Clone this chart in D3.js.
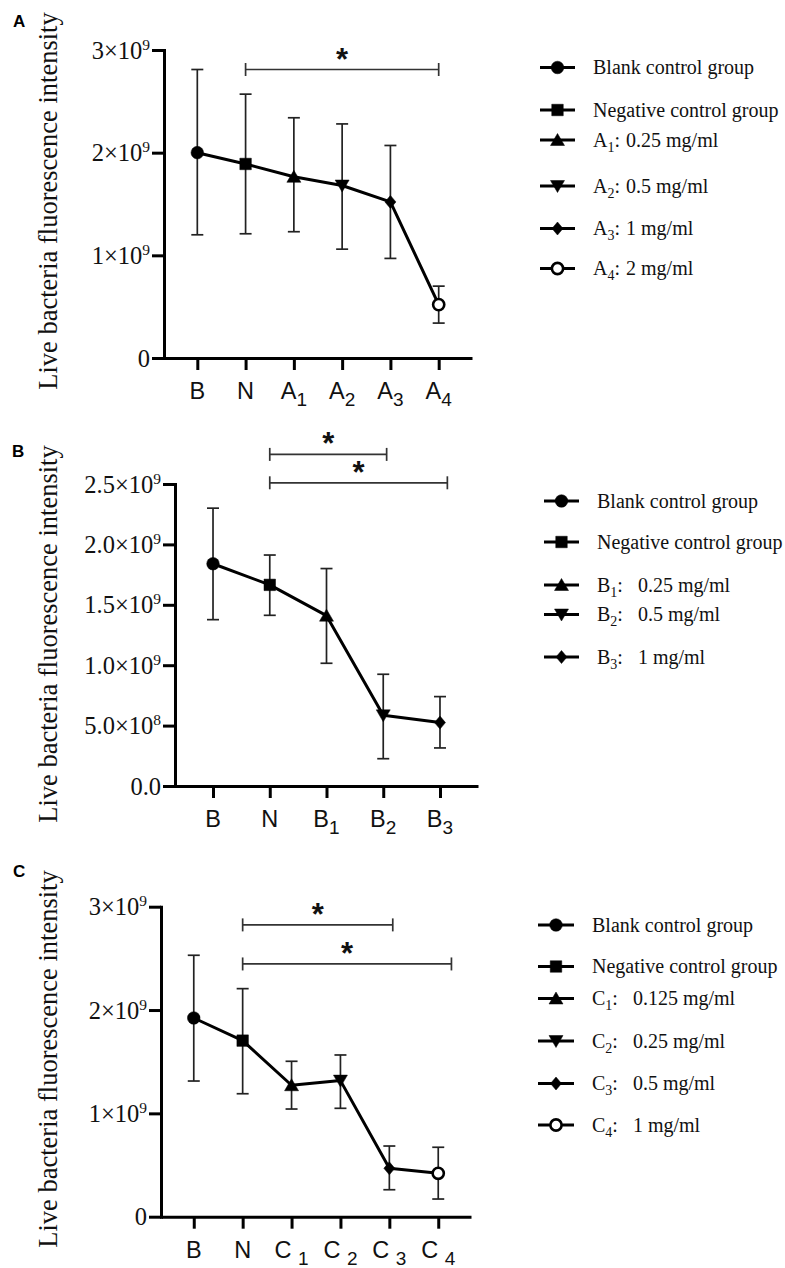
<!DOCTYPE html>
<html><head><meta charset="utf-8">
<script src="https://cdn.jsdelivr.net/npm/d3@7"></script>
<style>
html,body{margin:0;padding:0;background:#fff;}
svg{display:block;}
</style></head><body>
<svg id="chart" width="785" height="1268"></svg>
<script>
// ---------------- DATA ----------------
// Panel A
const catsA = ["B","N","A1","A2","A3","A4"];
const xMainA = ["B","N","A","A","A","A"];
const xSubA = ["","","1","2","3","4"];
const meanA = [2.00e9, 1.89e9, 1.765e9, 1.68e9, 1.52e9, 0.52e9];
const lowA  = [1.20e9, 1.21e9, 1.23e9, 1.06e9, 0.97e9, 0.34e9];
const highA = [2.81e9, 2.57e9, 2.34e9, 2.28e9, 2.07e9, 0.70e9];
const markersA = ["circle","square","triUp","triDown","diamond","openCircle"];
const tickValsA = [0, 1e9, 2e9, 3e9];
const tickMainA = ["0","1×10","2×10","3×10"];
const tickSupA = ["","9","9","9"];
const legendMainA = ["Blank control group","Negative control group","A","A","A","A"];
const legendSubA = ["","","1","2","3","4"];
const legendRestA = ["","","0.25 mg/ml","0.5 mg/ml","1 mg/ml","2 mg/ml"];
const sigFromA = [1];
const sigToA = [5];
const sigLevelA = [2.81e9];

// Panel B
const catsB = ["B","N","B1","B2","B3"];
const xMainB = ["B","N","B","B","B"];
const xSubB = ["","","1","2","3"];
const meanB = [1.84e9, 1.665e9, 1.41e9, 0.585e9, 0.525e9];
const lowB  = [1.377e9, 1.413e9, 1.016e9, 0.226e9, 0.315e9];
const highB = [2.30e9, 1.912e9, 1.80e9, 0.925e9, 0.74e9];
const markersB = ["circle","square","triUp","triDown","diamond"];
const tickValsB = [0, 0.5e9, 1.0e9, 1.5e9, 2.0e9, 2.5e9];
const tickMainB = ["0.0","5.0×10","1.0×10","1.5×10","2.0×10","2.5×10"];
const tickSupB = ["","8","9","9","9","9"];
const legendMainB = ["Blank control group","Negative control group","B","B","B"];
const legendSubB = ["","","1","2","3"];
const legendRestB = ["","","0.25 mg/ml","0.5 mg/ml","1 mg/ml"];
const sigFromB = [1, 1];
const sigToB = [3.06, 4.13];
const sigLevelB = [2.745e9, 2.51e9];

// Panel C
const catsC = ["B","N","C1","C2","C3","C4"];
const xMainC = ["B","N","C\u00A0","C\u00A0","C\u00A0","C\u00A0"];
const xSubC = ["","","1","2","3","4"];
const meanC = [1.923e9, 1.704e9, 1.272e9, 1.317e9, 0.468e9, 0.42e9];
const lowC  = [1.313e9, 1.19e9, 1.042e9, 1.049e9, 0.261e9, 0.171e9];
const highC = [2.53e9, 2.207e9, 1.504e9, 1.565e9, 0.684e9, 0.672e9];
const markersC = ["circle","square","triUp","triDown","diamond","openCircle"];
const tickValsC = [0, 1e9, 2e9, 3e9];
const tickMainC = ["0","1×10","2×10","3×10"];
const tickSupC = ["","9","9","9"];
const legendMainC = ["Blank control group","Negative control group","C","C","C","C"];
const legendSubC = ["","","1","2","3","4"];
const legendRestC = ["","","0.125 mg/ml","0.25 mg/ml","0.5 mg/ml","1 mg/ml"];
const sigFromC = [1, 1];
const sigToC = [4.07, 5.27];
const sigLevelC = [2.824e9, 2.446e9];

const yTitle = "Live bacteria fluorescence intensity";

// ---------------- LAYOUT ----------------
const SERIF = "'Liberation Serif','Times New Roman',Times,serif";
const SANS = "'Liberation Sans',Arial,Helvetica,sans-serif";
const svg = d3.select("#chart");

function markerPath(type){
  switch(type){
    case "circle": return d3.symbol(d3.symbolCircle, Math.PI*6.3*6.3)();
    case "square": return d3.symbol(d3.symbolSquare, 11.5*11.5)();
    case "triUp": return "M0,-6.5L7,5.5L-7,5.5Z";
    case "triDown": return "M0,6.5L7,-5.5L-7,-5.5Z";
    case "diamond": return "M0,-6.5L5.5,0L0,6.5L-5.5,0Z";
    case "openCircle": return d3.symbol(d3.symbolCircle, Math.PI*5.6*5.6)();
  }
}
function drawMarker(sel, type){
  sel.append("path").attr("d", markerPath(type))
    .attr("fill", type==="openCircle" ? "#fff" : "#000")
    .attr("stroke", "#000")
    .attr("stroke-width", type==="openCircle" ? 2.6 : 0.5);
}

function drawPanel(P){
  const g = svg.append("g");
  const x = d3.scalePoint().domain(P.cats).range([P.axisX, P.axisRight]).padding(P.pad);
  const y = d3.scaleLinear().domain([0, P.yMax]).range([P.y0, P.yTop]);
  const xi = i => x(P.cats[0]) + i * x.step();

  // y axis
  const gy = g.append("g").attr("transform", `translate(${P.axisX},0)`)
    .call(d3.axisLeft(y).tickValues(P.tickVals).tickSize(12).tickSizeOuter(0).tickFormat(""));
  gy.selectAll("path,line").attr("stroke","#000").attr("stroke-width",3);
  gy.select("path").attr("stroke-linecap","square");

  g.selectAll(null).data(P.tickVals).join("text")
    .attr("x", P.axisX - 14).attr("y", d => y(d)).attr("dy","0.35em")
    .attr("text-anchor","end").attr("font-family",SERIF).attr("font-size",24.5).attr("fill","#111")
    .each(function(d,i){
      const t = d3.select(this);
      t.append("tspan").text(P.tickMain[i]);
      if (P.tickSup[i]) t.append("tspan").attr("font-size",15.5).attr("dy",-9).text(P.tickSup[i]);
    });

  // x axis
  const gx = g.append("g").attr("transform", `translate(0,${P.y0})`)
    .call(d3.axisBottom(x).tickSize(12).tickSizeOuter(0).tickFormat(""));
  gx.selectAll("path,line").attr("stroke","#000").attr("stroke-width",3);

  g.selectAll(null).data(P.cats).join("text")
    .attr("x", d => x(d)).attr("y", P.y0 + 41)
    .attr("text-anchor","middle").attr("font-family",SANS).attr("font-size",23.5).attr("fill","#111")
    .each(function(d,i){
      const t = d3.select(this);
      t.append("tspan").text(P.xMain[i]);
      if (P.xSub[i]) t.append("tspan").attr("font-size",19).attr("dy",7).text(P.xSub[i]);
    });

  // y title
  g.append("text")
    .attr("transform", `translate(57,${P.titleY}) rotate(-90)`)
    .attr("text-anchor","middle").attr("font-family",SERIF).attr("font-size",26.5).attr("fill","#111")
    .text(yTitle);

  // panel letter
  g.append("text").attr("x", P.letterX).attr("y", P.letterY)
    .attr("font-family",SANS).attr("font-weight","bold").attr("font-size",17).attr("fill","#000")
    .text(P.letter);

  // error bars
  const idx = d3.range(P.cats.length);
  const eb = g.append("g").attr("stroke","#222").attr("stroke-width",1.7).attr("fill","none");
  idx.forEach(i => {
    const cx = x(P.cats[i]);
    eb.append("line").attr("x1",cx).attr("x2",cx).attr("y1",y(P.low[i])).attr("y2",y(P.high[i]));
    eb.append("line").attr("x1",cx-6).attr("x2",cx+6).attr("y1",y(P.low[i])).attr("y2",y(P.low[i]));
    eb.append("line").attr("x1",cx-6).attr("x2",cx+6).attr("y1",y(P.high[i])).attr("y2",y(P.high[i]));
  });

  // connecting line
  g.append("path").datum(idx)
    .attr("d", d3.line().x(i => x(P.cats[i])).y(i => y(P.mean[i])))
    .attr("fill","none").attr("stroke","#000").attr("stroke-width",3).attr("stroke-linejoin","round");

  // markers
  idx.forEach(i => {
    const m = g.append("g").attr("transform", `translate(${x(P.cats[i])},${y(P.mean[i])})`);
    drawMarker(m, P.markers[i]);
  });

  // significance bars
  const sg = g.append("g");
  P.sigFrom.forEach((f, k) => {
    const x1 = xi(f), x2 = xi(P.sigTo[k]), yy = y(P.sigLevel[k]);
    sg.append("line").attr("x1",x1).attr("x2",x2).attr("y1",yy).attr("y2",yy)
      .attr("stroke","#333").attr("stroke-width",1.7);
    [x1,x2].forEach(xx => sg.append("line").attr("x1",xx).attr("x2",xx).attr("y1",yy-6.5).attr("y2",yy+6.5)
      .attr("stroke","#333").attr("stroke-width",1.7));
    const fs = 31;
    sg.append("text").attr("x",(x1+x2)/2).attr("y", yy - 17 + 0.55*fs)
      .attr("text-anchor","middle").attr("font-family",SANS).attr("font-weight","bold")
      .attr("font-size",fs).attr("fill","#111").text("*");
  });

  // legend
  const lg = g.append("g");
  P.legendMain.forEach((txt, i) => {
    const ly = P.legendY[i];
    lg.append("line").attr("x1",P.legX1).attr("x2",P.legX2).attr("y1",ly).attr("y2",ly)
      .attr("stroke","#000").attr("stroke-width",3);
    const m = lg.append("g").attr("transform", `translate(${(P.legX1+P.legX2)/2},${ly})`);
    drawMarker(m, P.markers[i]);
    const t = lg.append("text").attr("x",P.legText).attr("y",ly).attr("dy","0.33em")
      .attr("font-family",SERIF).attr("font-size",20).attr("fill","#111");
    t.append("tspan").text(txt);
    if (P.legendSub[i]) {
      t.append("tspan").attr("font-size",14).attr("dy",5).text(P.legendSub[i]);
      t.append("tspan").attr("dy",-5).text(":");
      t.append("tspan").attr("dx",P.legGap).text(P.legendRest[i]);
    }
  });
}

drawPanel({
  letter:"A", letterX:13, letterY:27,
  cats:catsA, xMain:xMainA, xSub:xSubA, mean:meanA, low:lowA, high:highA, markers:markersA,
  tickVals:tickValsA, tickMain:tickMainA, tickSup:tickSupA, yMax:3e9,
  legendMain:legendMainA, legendSub:legendSubA, legendRest:legendRestA,
  sigFrom:sigFromA, sigTo:sigToA, sigLevel:sigLevelA,
  axisX:164, axisRight:472, pad:0.69, y0:358, yTop:50, titleY:201,
  legX1:540, legX2:575, legText:593, legGap:6, legendY:[67.5,110,140,186,228.5,268.5]
});
drawPanel({
  letter:"B", letterX:12, letterY:457,
  cats:catsB, xMain:xMainB, xSub:xSubB, mean:meanB, low:lowB, high:highB, markers:markersB,
  tickVals:tickValsB, tickMain:tickMainB, tickSup:tickSupB, yMax:2.5e9,
  legendMain:legendMainB, legendSub:legendSubB, legendRest:legendRestB,
  sigFrom:sigFromB, sigTo:sigToB, sigLevel:sigLevelB,
  axisX:175, axisRight:478, pad:0.67, y0:786, yTop:484, titleY:634,
  legX1:544, legX2:579, legText:597, legGap:15, legendY:[501,542,585,614.5,657]
});
drawPanel({
  letter:"C", letterX:13, letterY:877,
  cats:catsC, xMain:xMainC, xSub:xSubC, mean:meanC, low:lowC, high:highC, markers:markersC,
  tickVals:tickValsC, tickMain:tickMainC, tickSup:tickSupC, yMax:3e9,
  legendMain:legendMainC, legendSub:legendSubC, legendRest:legendRestC,
  sigFrom:sigFromC, sigTo:sigToC, sigLevel:sigLevelC,
  axisX:161, axisRight:471, pad:0.67, y0:1216.7, yTop:906.7, titleY:1059,
  legX1:538, legX2:574, legText:592, legGap:15, legendY:[925,966.5,998.5,1041,1083.5,1125]
});
</script>
</body></html>
